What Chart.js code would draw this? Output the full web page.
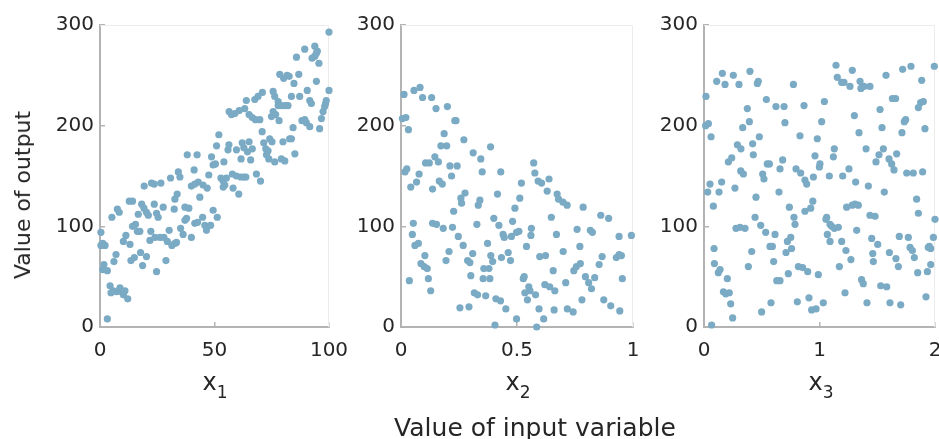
<!DOCTYPE html>
<html><head><meta charset="utf-8">
<script src="https://cdn.jsdelivr.net/npm/chart.js@4/dist/chart.umd.min.js"></script>
<style>
html,body{margin:0;padding:0;background:#fff;}
#wrap{position:relative;width:939px;height:439px;overflow:hidden;font-family:"DejaVu Sans",sans-serif;color:#262626;}
canvas{position:absolute;left:0;top:0;}
.xl{position:absolute;top:368px;font-size:24px;line-height:28px;transform:translateX(-50%);white-space:nowrap;}
.xl sub{font-size:17px;line-height:0;vertical-align:-8px;}
#xt{position:absolute;left:535px;top:413px;font-size:25px;line-height:30px;transform:translateX(-50%);white-space:nowrap;}
#yt{position:absolute;left:23px;top:195px;font-size:22px;line-height:26px;transform:translate(-50%,-50%) rotate(-90deg);white-space:nowrap;}
</style></head><body>
<div id="wrap">
<canvas id="c1" width="939" height="439"></canvas>
<canvas id="c2" width="939" height="439"></canvas>
<canvas id="c3" width="990" height="439"></canvas>
<div id="yt">Value of output</div>
<div class="xl" style="left:215px">x<sub>1</sub></div>
<div class="xl" style="left:518px">x<sub>2</sub></div>
<div class="xl" style="left:821px">x<sub>3</sub></div>
<div id="xt">Value of input variable</div>
</div>
<script>
// ---- data ----
const yTicks = [0, 100, 200, 300];
const x1Ticks = [0, 50, 100];
const x2Ticks = [0, 0.5, 1];
const x3Ticks = [0, 1, 2];

const p1X = [3.2,4.4,5.8,7.3,8.7,9.4,10.2,10.9,12.1,4.8,1.7,3.2,1.2,0.4,1.2,2.2,0.4,6.1,7,5.2,7.6,8.4,10.2,11.3,13.1,13.5,15,17.7,18.6,20.3,14.2,15.5,16.3,17.4,12.8,14.2,16.7,18.2,19.2,20.3,21.1,19.3,22.5,23.7,26.6,23.7,25.4,24.7,27.6,22.2,21.8,24,26.2,27.9,29.4,30.2,31.4,32.7,33.4,24.7,28.8,30.8,34.2,34.9,32.4,32.7,33.7,37.1,38.8,35.2,36.3,37.1,37.8,38.1,42.4,41.1,39.9,41.4,42.9,43.6,45,46.8,39.9,41.4,42.6,44.8,45.8,46.5,48.3,49.4,51.2,47.5,49.4,50.4,48.7,50.9,51.9,52.8,53.8,54.5,53.8,55.2,54.1,55.9,56.3,58.1,60.6,57.8,59.6,61.5,62.8,63.7,59.6,61.6,62.1,62.8,64.4,65.1,65.8,66.5,56.4,57.4,58.9,60.8,63.2,63.9,67.6,69,70.9,65.1,66.5,67.9,69.8,68.3,70.1,70.8,71.5,72.4,73.4,72.7,73.7,74.1,75.1,74.9,75.6,76.7,76.3,78.2,77.8,79.2,80.7,82.1,75.6,76.3,77.8,78.5,80.2,79.2,80.7,79.9,82.8,83.6,84.3,85.1,81.7,82.6,83.6,84.7,85.8,86.8,87.2,88.2,89.4,90.1,91.6,89.4,90.5,91.6,92.3,93.8,94.9,92.6,93.8,95.6,94.5,94.5,95.9,96.7,97.4,98.1,98.5,98.8,100,100];
const p1Y = [8,41,36,35,39,35,32,36,28,34,62,56,57,94,83,81,81,65,72,109,117,114,85,91,82,66,69,74,61,70,100,102,95,95,125,125,112,122,118,114,111,140,143,142,143,122,109,113,119,95,86,89,89,89,85,96,81,83,84,55,66,148,154,149,117,127,132,119,118,98,92,106,108,171,171,156,140,142,144,129,141,138,89,103,104,109,101,96,101,116,109,151,161,162,169,180,191,148,145,141,139,148,164,176,181,138,132,152,150,149,149,149,176,167,183,178,174,184,166,177,214,211,212,215,217,225,226,229,233,211,208,206,206,152,145,194,183,177,175,171,167,187,184,209,214,211,164,205,220,220,220,220,234,229,224,251,247,167,165,184,187,187,198,172,250,249,229,242,268,251,229,205,206,203,199,276,235,225,222,279,274,267,269,262,272,244,197,207,214,219,222,225,235,293];

const p2X = [0.013,0.056,0.082,0.093,0.132,0.151,0.2,0.006,0.021,0.032,0.232,0.237,0.186,0.172,0.197,0.271,0.386,0.311,0.344,0.146,0.161,0.106,0.122,0.211,0.242,0.35,0.43,0.025,0.017,0.078,0.067,0.042,0.165,0.178,0.136,0.218,0.276,0.258,0.261,0.34,0.333,0.416,0.519,0.512,0.491,0.572,0.577,0.591,0.606,0.638,0.63,0.673,0.679,0.698,0.716,0.785,0.227,0.053,0.049,0.136,0.153,0.182,0.222,0.247,0.268,0.327,0.4,0.422,0.44,0.445,0.476,0.498,0.508,0.481,0.562,0.56,0.541,0.648,0.67,0.759,0.816,0.825,0.861,0.895,0.94,0.993,0.06,0.075,0.103,0.086,0.1,0.113,0.036,0.118,0.128,0.194,0.207,0.287,0.297,0.309,0.301,0.316,0.33,0.365,0.254,0.293,0.373,0.387,0.395,0.357,0.379,0.354,0.383,0.433,0.462,0.472,0.409,0.429,0.452,0.405,0.498,0.527,0.531,0.534,0.551,0.556,0.545,0.58,0.585,0.595,0.615,0.598,0.623,0.62,0.641,0.663,0.656,0.66,0.699,0.71,0.717,0.742,0.745,0.756,0.773,0.771,0.78,0.795,0.809,0.821,0.835,0.854,0.867,0.874,0.904,0.928,0.94,0.95,0.954,0.943];
const p2Y = [231,235,238,228,228,217,219,207,208,196,205,205,192,180,180,186,179,173,167,169,164,163,163,160,160,154,154,157,154,152,144,139,145,142,137,150,133,128,123,126,121,132,143,128,118,163,153,145,143,147,135,132,127,124,121,119,115,103,92,103,102,98,99,90,81,102,108,101,92,89,90,94,95,105,98,91,80,109,92,97,96,94,111,108,90,91,81,83,71,63,60,58,46,48,36,66,75,66,64,73,51,34,32,31,19,20,83,71,65,58,58,48,48,69,74,66,28,26,18,2,8,48,50,34,40,36,27,32,0,18,8,70,71,42,40,36,56,17,75,44,18,15,56,60,63,80,27,50,44,38,49,62,70,27,21,69,72,71,48,16];

const p3X = [0.017,0.014,0.038,0.061,0.11,0.159,0.182,0.254,0.303,0.398,0.47,0.462,0.54,0.623,0.693,0.774,0.866,0.375,0.393,0.335,0.701,1.042,1.019,0.831,0.981,1.143,1.154,1.192,1.212,1.284,1.264,1.351,1.359,1.385,1.437,1.576,1.72,1.792,1.994,1.885,1.631,1.659,1.524,1.876,1.899,1.856,1.746,1.734,1.302,1.342,1.541,1.714,1.913,1.128,1.12,1.403,1.553,1.515,1.489,1.668,1.602,1.625,1.645,1.755,1.812,1.893,0.289,0.32,0.421,0.479,0.427,0.211,0.24,0.318,0.341,0.508,0.519,0.548,0.566,0.658,0.681,0.797,0.837,0.874,0.889,0.947,0.999,1.004,0.961,1.085,1.201,1.255,1.313,1.423,1.561,0.052,0.032,0.13,0.153,0.268,0.081,0.45,0.649,0.739,0.874,0.924,0.942,1.235,1.284,1.307,1.336,1.437,1.481,1.841,1.856,2.0,0.442,0.491,0.534,0.615,0.277,0.312,0.355,0.779,0.788,0.751,0.722,0.71,0.758,0.571,0.592,0.603,0.413,1.062,1.056,1.091,1.105,1.128,1.163,1.068,1.091,1.192,1.229,1.272,1.322,1.452,1.504,1.461,1.466,1.605,1.662,1.683,1.691,1.769,1.784,1.804,1.821,1.986,1.951,1.963,1.942,1.963,1.934,1.85,0.087,0.09,0.124,0.139,0.202,0.168,0.188,0.219,0.231,0.248,0.066,0.384,0.499,0.58,0.63,0.658,0.73,0.817,0.854,0.898,0.99,0.808,0.909,0.932,0.97,1.033,1.172,1.221,1.364,1.379,1.411,1.53,1.582,1.61,1.703,1.922];
const p3Y = [229,200,202,189,244,252,241,250,241,254,244,242,226,219,219,241,220,217,204,198,203,224,204,190,187,260,248,243,243,255,239,244,237,239,239,250,256,259,259,245,227,227,216,223,224,218,206,204,210,193,198,193,197,177,169,177,177,171,164,172,167,162,156,153,153,154,181,177,182,189,171,164,168,155,152,152,147,162,162,157,166,157,153,146,142,149,159,162,170,150,150,157,144,140,134,142,134,134,144,138,120,129,134,119,115,118,125,119,121,122,121,111,110,127,113,107,109,101,94,92,98,99,98,109,102,89,85,74,78,80,80,65,75,109,107,102,100,98,99,92,85,85,76,67,96,88,82,73,65,74,68,60,90,89,79,76,69,89,80,78,79,62,55,54,78,63,54,57,48,35,33,34,23,9,2,60,15,24,46,46,53,60,59,55,52,25,29,17,18,24,60,34,47,43,24,41,40,24,22,30];

// ---- style ----
const FONT = '"DejaVu Sans", sans-serif';
const TXT = '#262626';
const AX = '#b3b3b3';
const DOT = 'rgb(122,170,196)';

const framePlugin = {
  id: 'frame',
  beforeDatasetsDraw(chart) {
    const {ctx, chartArea: a} = chart;
    ctx.save();
    ctx.strokeStyle = '#ececec';
    ctx.lineWidth = 1;
    ctx.beginPath();
    ctx.moveTo(a.left, a.top + 0.5);
    ctx.lineTo(a.right - 0.5, a.top + 0.5);
    ctx.lineTo(a.right - 0.5, a.bottom);
    ctx.stroke();
    ctx.restore();
  }
};

function makePanel(id, xs, ys, xTicks, padLeft, padRight, yWidth) {
  const pts = xs.map((x, i) => ({x: x, y: ys[i]}));
  return new Chart(document.getElementById(id), {
    type: 'scatter',
    data: {datasets: [{data: pts, pointRadius: 3.6, pointHoverRadius: 3.6, backgroundColor: DOT, borderWidth: 0, clip: false}]},
    options: {
      responsive: false, animation: false, devicePixelRatio: 1,
      events: [],
      layout: {autoPadding: false, padding: {left: padLeft, right: padRight, top: 25, bottom: 37}},
      plugins: {legend: {display: false}, tooltip: {enabled: false}},
      scales: {
        x: {
          type: 'linear', position: 'bottom',
          min: xTicks[0], max: xTicks[xTicks.length - 1],
          afterBuildTicks: s => { s.ticks = xTicks.map(v => ({value: v})); },
          afterFit: s => { s.height = 75; },
          grid: {drawOnChartArea: false, drawTicks: true, tickLength: -5, color: AX, lineWidth: 1.5},
          border: {display: true, color: AX, width: 2},
          ticks: {padding: 17, font: {family: FONT, size: 20}, color: TXT, maxRotation: 0, autoSkip: false, callback: v => String(v)}
        },
        y: {
          type: 'linear', position: 'left',
          min: yTicks[0], max: yTicks[yTicks.length - 1],
          afterBuildTicks: s => { s.ticks = yTicks.map(v => ({value: v})); },
          afterFit: s => { s.width = yWidth; },
          grid: {drawOnChartArea: false, drawTicks: true, tickLength: -5, color: AX, lineWidth: 1.5},
          border: {display: true, color: AX, width: 2},
          ticks: {padding: 11, font: {family: FONT, size: 20}, color: TXT, autoSkip: false, callback: v => String(v)}
        }
      }
    },
    plugins: [framePlugin]
  });
}

makePanel('c1', p1X, p1Y, x1Ticks, 40, 939 - 329, 60);
makePanel('c2', p2X, p2Y, x2Ticks, 341, 939 - 633, 60);
makePanel('c3', p3X, p3Y, x3Ticks, 644, 990 - 935, 60);
</script>
</body></html>
